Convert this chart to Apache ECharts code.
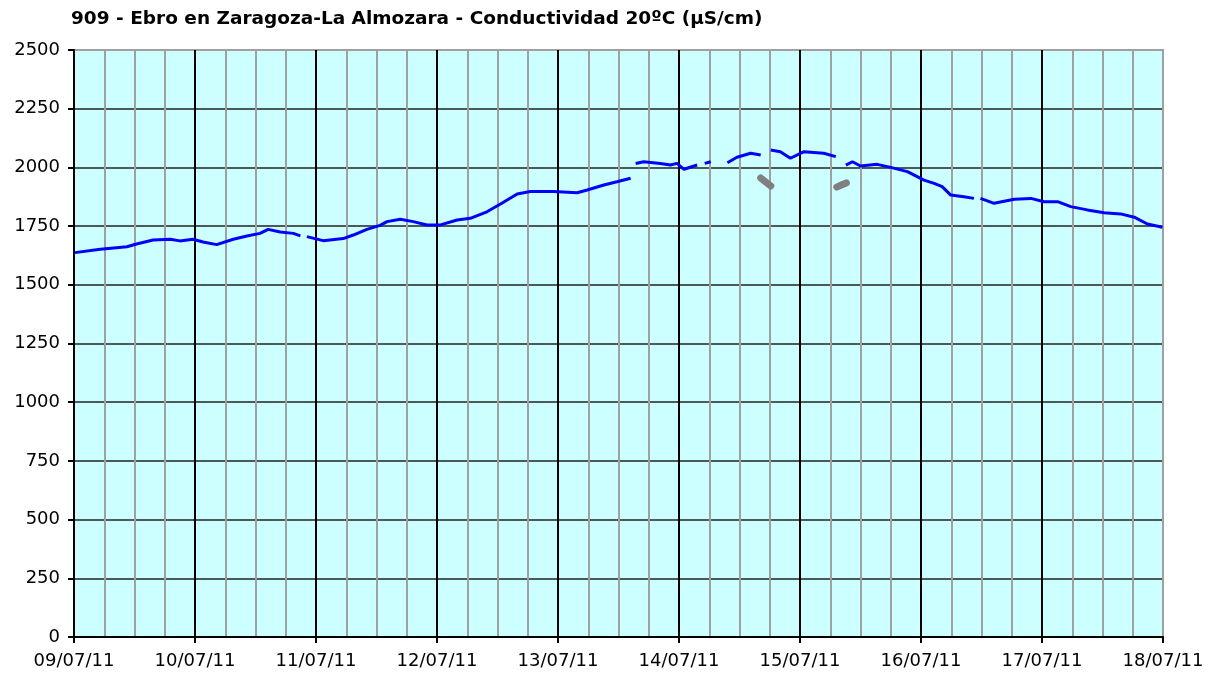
<!DOCTYPE html>
<html>
<head>
<meta charset="utf-8">
<script src="https://cdn.jsdelivr.net/npm/echarts@6/dist/echarts.min.js"></script>
<style>html,body{margin:0;padding:0;background:#fff}#c{width:1221px;height:677px}</style>
</head>
<body>
<div id="c"></div>
<script>
var titleText = '909 - Ebro en Zaragoza-La Almozara - Conductividad 20ºC (µS/cm)';
var dayLabels = ['09/07/11','10/07/11','11/07/11','12/07/11','13/07/11','14/07/11','15/07/11','16/07/11','17/07/11','18/07/11'];
// hours since 09/07/11 00:00 (null = gap)
var hours = [0.2,5.2,10.5,12.4,15.7,19.1,21.0,23.6,25.6,28.3,31.6,34.3,36.9,38.5,40.9,43.5,44.9,45.5,
  46.2,49.4,53.4,55.4,58.1,60.7,62.1,64.7,67.3,70.0,72.7,76.0,78.6,81.9,84.6,87.9,90.5,95.1,99.8,101.8,105.1,107.7,110.4,110.9,
  111.4,113.0,116.3,118.3,119.6,121.0,123.6,124.3,
  125.1,126.3,127.5,
  129.6,131.5,134.2,136.2,137.2,
  138.2,140.1,142.1,144.8,148.7,151.1,152.1,
  153.1,154.4,156.0,159.3,162.0,165.3,168.6,170.6,172.2,173.9,176.5,178.5,179.1,
  179.8,182.5,186.5,189.8,192.4,195.1,197.7,201.0,204.3,207.6,210.3,212.9,215.9];
var values = [1637,1651,1662,1674,1691,1694,1687,1694,1682,1671,1694,1708,1719,1736,1725,1719,1708,null,
  1705,1688,1697,1712,1736,1753,1769,1779,1769,1755,1755,1776,1783,1811,1844,1887,1897,1897,1892,1904,1925,1939,1954,null,
  2017,2024,2017,2010,2017,1992,2010,null,
  2017,2024,null,
  2020,2043,2060,2053,null,
  2074,2067,2039,2067,2060,2046,null,
  2010,2024,2006,2013,2000,1982,1946,1932,1918,1882,1875,1868,null,
  1868,1847,1864,1868,1854,1854,1833,1819,1807,1802,1788,1759,1745];
var grayHours = [136.2,137.2,138.2,139.0,151.3,152.3,153.2];
var grayValues = [1955,1938,1921,null,1916,1926,1934];

function pairs(xs, ys){ return xs.map(function(x,i){ return [x, ys[i]]; }); }

var xMajorColors = ['#000','#000','#000','#000','#000','#000','#000','#000','#000','#a0a0a0'];
var yMajorColors = ['#000','#222','#222','#222','#222','#222','#222','#222','#222','#222','#a0a0a0'];

var chart = echarts.init(document.getElementById('c'), null, {renderer:'canvas'});
chart.setOption({
  animation:false,
  backgroundColor:'#ffffff',
  title:{text:titleText,left:66,top:5,textStyle:{fontFamily:'DejaVu Sans',fontSize:18.5,fontWeight:'bold',color:'#000'}},
  grid:{left:74,right:58,top:50,bottom:40,show:true,backgroundColor:'#ccffff',borderColor:'#a0a0a0',borderWidth:2},
  xAxis:{type:'value',min:0,max:216,interval:24,
    axisLine:{show:true,onZero:false,lineStyle:{color:'#000',width:2}},
    axisTick:{show:true,length:6,lineStyle:{color:'#000',width:2}},
    axisLabel:{fontFamily:'DejaVu Sans',fontSize:18,color:'#000',margin:15,
      formatter:function(v){return dayLabels[Math.round(v/24)];}},
    splitLine:{show:true,lineStyle:{color:xMajorColors,width:2}},
    minorTick:{show:false,splitNumber:4},
    minorSplitLine:{show:true,lineStyle:{color:'#a0a0a0',width:2}}},
  yAxis:{type:'value',min:0,max:2500,interval:250,
    axisLine:{show:true,lineStyle:{color:'#000',width:2}},
    axisTick:{show:true,length:6,lineStyle:{color:'#000',width:2}},
    axisLabel:{fontFamily:'DejaVu Sans',fontSize:18,color:'#000',margin:14,
      formatter:function(v){return String(v);}},
    splitLine:{show:true,lineStyle:{color:yMajorColors,width:1.5}}},
  series:[
    {type:'line',data:pairs(hours,values),showSymbol:false,connectNulls:false,
     lineStyle:{color:'#0000ff',width:3},z:5},
    {type:'line',data:pairs(grayHours,grayValues),showSymbol:false,connectNulls:false,
     lineStyle:{color:'#808080',width:7,cap:'round'},z:4}
  ]
});
</script>
</body>
</html>
